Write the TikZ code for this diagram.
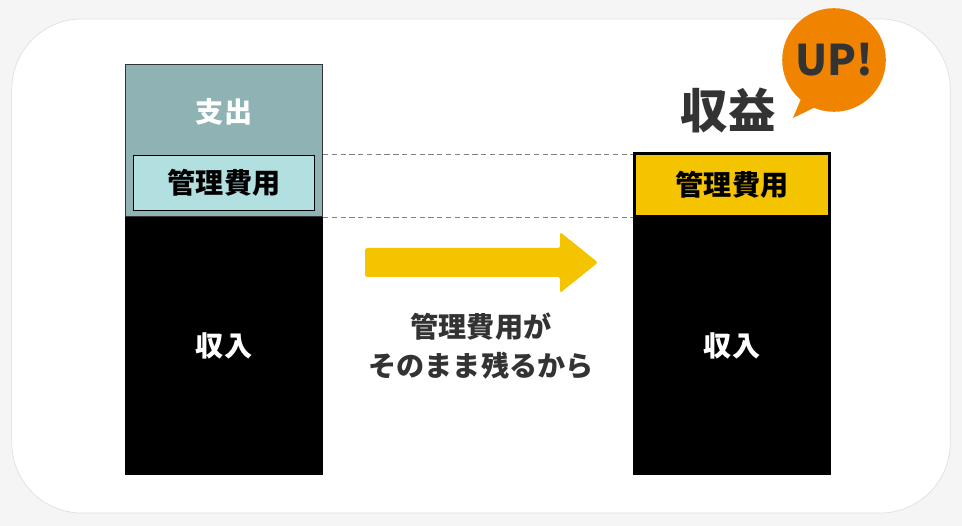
\documentclass[tikz,border=0pt]{standalone}
\usepackage{fontspec}
\setmainfont{Noto Sans CJK JP}
\usetikzlibrary{positioning}
\definecolor{costgray}{HTML}{8FB3B5}
\definecolor{mgmtblue}{HTML}{B2E0E0}
\definecolor{gainyellow}{HTML}{F5C400}
\definecolor{uporange}{HTML}{F08300}
\definecolor{textdark}{HTML}{333333}
\begin{document}
\begin{tikzpicture}[x=0.02cm,y=-0.02cm]
	\tikzstyle{bar_black} = [draw=black, fill=black, inner sep=0pt]
	\tikzstyle{label_text} = [font=\bfseries\fontsize{16}{19}\selectfont]
	\tikzstyle{guide_line} = [densely dashed, gray, thin]

%------------------------------------------------------------
	\useasboundingbox[fill=white!96!black] (0,0) rectangle (962,526);
	\node[draw=black!12, fill=white, rounded corners=40pt, minimum width=942*0.567pt, minimum height=496*0.567pt, inner sep=0pt] (panel) at (481,266) {};

%------------------------------------------------------------
	\node[bar_black, minimum width=198*0.567pt, minimum height=258*0.567pt] (inLeft) at (224,346) {};
	\node[draw=black!80, fill=costgray, minimum width=198*0.567pt, minimum height=153*0.567pt, inner sep=0pt] (outLeft) at (224,140.5) {};
	\node[draw=black, fill=mgmtblue, minimum width=182*0.567pt, minimum height=55*0.567pt, inner sep=0pt] (mgmtLeft) at (224,182.5) {};
	\node[label_text, white] at (224,112) {支出};
	\node[label_text, black] at (mgmtLeft) {管理費用};
	\node[label_text, white] at (inLeft) {収入};

%------------------------------------------------------------
	\node[bar_black, minimum width=198*0.567pt, minimum height=258*0.567pt] (inRight) at (732,346) {};
	\node[draw=black, line width=1.5pt, fill=gainyellow, minimum width=196*0.567pt, minimum height=63*0.567pt, inner sep=0pt] (mgmtRight) at (732,185) {};
	\node[label_text, black] at (mgmtRight) {管理費用};
	\node[label_text, white] at (inRight) {収入};

	\draw[guide_line] (outLeft.east |- mgmtLeft.north) -- (mgmtRight.west |- mgmtLeft.north);
	\draw[guide_line] (inLeft.north east) -- (inRight.north west);

%------------------------------------------------------------
	\fill[gainyellow, rounded corners=1pt] (365,248) -- (560,248) -- (560,232) -- (598,262.5) -- (560,293) -- (560,277) -- (365,277) -- cycle;
	\node[label_text, textdark, align=center] (reason) at (481,346) {管理費用が\\[3pt]そのまま残るから};

%------------------------------------------------------------
	\node[font=\bfseries\fontsize{27}{30}\selectfont, textdark] (gain) at (728,110) {収益};
	\fill[uporange] (793,118) -- (808,82) -- (830,100) -- cycle;
	\node[circle, fill=uporange, minimum size=104*0.567pt, inner sep=0pt] (bubble) at (834,60) {};
	\node[font=\bfseries\fontsize{24}{28}\selectfont, textdark] at (bubble) {UP!};
\end{tikzpicture}
\end{document}
